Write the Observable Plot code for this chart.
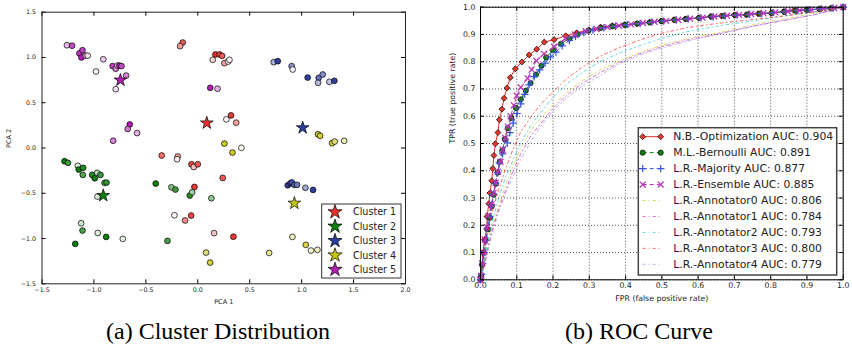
<!DOCTYPE html>
<html><head><meta charset="utf-8">
<script src="https://cdn.jsdelivr.net/npm/d3@7"></script>
<script src="https://cdn.jsdelivr.net/npm/@observablehq/plot@0.6"></script>
<style>
body{margin:0;background:#fff}
#wrap{position:relative;width:852px;height:352px;overflow:hidden;background:#fff}
.panel{position:absolute;top:0}
.cap{position:absolute;top:318px;font-family:"Liberation Serif","DejaVu Serif",serif;font-size:24px;color:#000;white-space:nowrap;transform:translateX(-50%)}
#overlay{position:absolute;left:0;top:0;pointer-events:none}
</style></head><body><div id="wrap"></div>
<script>
// ---------------- DATA ----------------
const clusterNames = ["Cluster 1","Cluster 2","Cluster 3","Cluster 4","Cluster 5"];
const clusterColors = ["#e8302a","#0c7f0c","#2f3f9f","#c5c510","#b31fb3"];
// [pca1, pca2, membership shade]
const cluster1Points = [[-0.145,1.165,0.8],[-0.17,1.125,0.45],[0.17,1.033,1.0],[0.21,1.033,0.9],[0.234,1.018,0.8],[0.144,0.974,0.2],[0.256,0.937,0.45],[0.292,0.955,0.05],[0.305,0.974,0.05],[0.32,0.36,0.95],[0.275,0.316,0.05],[0.37,0.28,0.45],[-0.347,-0.083,0.7],[-0.193,-0.094,0.45],[-0.199,-0.124,0.1],[-0.061,-0.18,0.9],[-0.039,-0.21,0.3],[0.0,-0.18,0.8],[0.24,-0.33,0.8],[-0.032,-0.43,0.95],[-0.225,-0.743,0.05],[-0.122,-0.80,0.55],[-0.064,-0.746,0.9],[0.157,-0.94,0.3],[0.343,-0.98,0.95]];
const cluster2Points = [[-1.283,-0.146,1.0],[-1.25,-0.164,0.8],[-1.155,-0.197,0.15],[-1.146,-0.238,1.0],[-1.104,-0.219,0.9],[-1.107,-0.297,0.7],[-1.017,-0.297,0.9],[-0.992,-0.334,1.0],[-0.969,-0.275,0.3],[-0.937,-0.297,0.8],[-0.898,-0.385,0.7],[-0.879,-0.382,0.85],[-0.966,-0.536,0.15],[-0.405,-0.393,1.0],[-0.254,-0.434,0.5],[-0.215,-0.459,0.8],[-0.077,-0.525,0.9],[-0.054,-0.489,0.4],[0.131,-0.555,0.45],[-1.123,-0.831,0.2],[-1.110,-0.912,0.75],[-1.18,-1.059,1.0],[-0.963,-0.938,0.15],[-0.882,-0.982,1.0],[-0.722,-1.004,0.1],[-0.292,-1.026,0.75]];
const cluster3Points = [[0.731,0.948,0.4],[0.77,0.959,1.0],[0.904,0.904,0.55],[0.914,0.867,0.05],[1.058,0.778,1.0],[1.164,0.775,0.75],[1.203,0.812,0.6],[1.158,0.72,0.35],[1.267,0.731,0.3],[1.315,0.742,1.0],[0.866,-0.412,1.0],[0.892,-0.39,1.0],[0.905,-0.38,0.9],[0.93,-0.407,0.8],[0.956,-0.407,0.7],[1.036,-0.44,0.45],[1.11,-0.463,1.0]];
const cluster4Points = [[0.256,0.049,0.9],[0.334,-0.05,0.9],[0.42,0.002,0.05],[1.158,0.152,0.9],[1.178,0.134,0.8],[1.293,0.053,0.8],[1.318,0.071,0.6],[1.409,0.079,0.3],[0.911,-0.982,0.25],[1.04,-1.07,0.75],[1.09,-1.133,0.2],[1.152,-1.125,0.25],[0.687,-1.159,0.45],[0.08,-1.155,0.6],[0.119,-1.266,0.8]];
const cluster5Points = [[-1.26,1.135,0.3],[-1.21,1.13,0.8],[-1.14,1.045,0.9],[-1.11,1.08,0.85],[-1.12,1.0,1.0],[-1.08,1.02,0.4],[-1.06,1.02,0.15],[-0.91,0.98,0.25],[-0.98,0.845,0.08],[-0.82,0.905,0.85],[-0.79,0.875,0.6],[-0.772,0.911,0.1],[-0.755,0.91,1.0],[-0.735,0.905,0.8],[-0.69,0.80,0.55],[-0.79,0.65,0.15],[0.12,0.665,1.0],[0.19,0.655,0.35],[-0.655,0.26,1.0],[-0.675,0.21,0.6],[-0.585,0.165,0.35],[-0.815,0.08,0.55]];
const clusterCentroids = [[0.087,0.276],[-0.91,-0.525],[1.01,0.223],[0.93,-0.61],[-0.745,0.75]];
const pcaXTicks = [-1.5,-1.0,-0.5,0.0,0.5,1.0,1.5,2.0];
const pcaYTicks = [-1.5,-1.0,-0.5,0.0,0.5,1.0,1.5];

const rateTicks = [0,0.1,0.2,0.3,0.4,0.5,0.6,0.7,0.8,0.9,1.0];
const rocLabels = ["N.B.-Optimization AUC: 0.904","M.L.-Bernoulli AUC: 0.891","L.R.-Majority AUC: 0.877","L.R.-Ensemble AUC: 0.885","L.R.-Annotator0 AUC: 0.806","L.R.-Annotator1 AUC: 0.784","L.R.-Annotator2 AUC: 0.793","L.R.-Annotator3 AUC: 0.800","L.R.-Annotator4 AUC: 0.779"];
// [fpr, tpr]
const nbOptimization = [[0,0],[0.0,0.01],[0.004,0.054],[0.007,0.099],[0.011,0.147],[0.017,0.186],[0.018,0.232],[0.023,0.279],[0.026,0.318],[0.031,0.363],[0.034,0.408],[0.037,0.456],[0.041,0.499],[0.048,0.540],[0.052,0.587],[0.059,0.626],[0.065,0.666],[0.073,0.704],[0.082,0.742],[0.096,0.774],[0.114,0.799],[0.134,0.825],[0.155,0.846],[0.176,0.872],[0.203,0.881],[0.235,0.895],[0.265,0.906],[0.299,0.917],[0.331,0.927],[0.363,0.932],[0.397,0.935],[0.431,0.939],[0.466,0.945],[0.497,0.949],[0.533,0.954],[0.564,0.957],[0.601,0.961],[0.634,0.966],[0.664,0.968],[0.699,0.971],[0.732,0.972],[0.765,0.976],[0.801,0.978],[0.835,0.984],[0.864,0.988],[0.899,0.990],[0.934,0.993],[0.965,0.996],[1.0,1.0]];
const mlBernoulli = [[0,0],[0.002,0.012],[0.005,0.055],[0.009,0.1],[0.014,0.145],[0.021,0.185],[0.026,0.228],[0.031,0.27],[0.036,0.312],[0.042,0.352],[0.047,0.393],[0.053,0.433],[0.06,0.474],[0.067,0.516],[0.075,0.556],[0.085,0.594],[0.098,0.63],[0.111,0.662],[0.125,0.694],[0.138,0.722],[0.153,0.753],[0.168,0.785],[0.181,0.816],[0.2,0.842],[0.222,0.866],[0.245,0.885],[0.268,0.9],[0.298,0.914],[0.331,0.924],[0.364,0.93],[0.398,0.935],[0.432,0.94],[0.467,0.944],[0.5,0.949],[0.535,0.953],[0.568,0.957],[0.603,0.961],[0.637,0.965],[0.67,0.968],[0.703,0.971],[0.736,0.973],[0.77,0.976],[0.803,0.979],[0.838,0.983],[0.87,0.987],[0.9,0.99],[0.935,0.993],[0.968,0.996],[1,1]];
const lrMajority = [[0,0],[0.003,0.02],[0.006,0.06],[0.01,0.1],[0.015,0.145],[0.02,0.19],[0.026,0.232],[0.031,0.275],[0.036,0.315],[0.042,0.355],[0.047,0.393],[0.052,0.428],[0.061,0.462],[0.074,0.502],[0.081,0.54],[0.09,0.575],[0.101,0.61],[0.111,0.645],[0.122,0.68],[0.134,0.715],[0.148,0.745],[0.163,0.77],[0.178,0.795],[0.193,0.818],[0.208,0.835],[0.225,0.858],[0.245,0.878],[0.262,0.892],[0.285,0.906],[0.31,0.916],[0.34,0.924],[0.372,0.93],[0.405,0.936],[0.44,0.94],[0.472,0.945],[0.505,0.949],[0.54,0.953],[0.573,0.957],[0.608,0.961],[0.642,0.965],[0.675,0.968],[0.708,0.971],[0.742,0.974],[0.775,0.977],[0.808,0.98],[0.842,0.984],[0.875,0.988],[0.908,0.991],[0.94,0.994],[0.972,0.997],[1,1]];
const lrEnsemble = [[0,0],[0.002,0.015],[0.004,0.06],[0.008,0.1],[0.012,0.148],[0.018,0.193],[0.022,0.235],[0.03,0.276],[0.036,0.318],[0.042,0.356],[0.048,0.396],[0.055,0.433],[0.061,0.477],[0.068,0.52],[0.075,0.562],[0.083,0.6],[0.092,0.64],[0.1,0.675],[0.111,0.706],[0.13,0.739],[0.141,0.771],[0.154,0.804],[0.175,0.829],[0.203,0.855],[0.234,0.885],[0.26,0.9],[0.29,0.912],[0.32,0.92],[0.35,0.927],[0.382,0.932],[0.415,0.937],[0.448,0.942],[0.48,0.946],[0.512,0.95],[0.545,0.954],[0.578,0.958],[0.612,0.962],[0.645,0.966],[0.68,0.969],[0.713,0.972],[0.746,0.975],[0.78,0.978],[0.813,0.981],[0.847,0.985],[0.88,0.988],[0.912,0.991],[0.945,0.994],[0.975,0.997],[1,1]];
const annotator0 = [[0,0],[0.01,0.06],[0.02,0.12],[0.03,0.18],[0.05,0.27],[0.07,0.35],[0.09,0.42],[0.11,0.48],[0.14,0.55],[0.17,0.6],[0.2,0.64],[0.24,0.69],[0.28,0.73],[0.33,0.77],[0.38,0.8],[0.44,0.835],[0.5,0.86],[0.57,0.885],[0.65,0.905],[0.75,0.935],[0.85,0.96],[0.93,0.98],[1,1]];
const annotator1 = [[0,0],[0.01,0.05],[0.02,0.11],[0.03,0.17],[0.05,0.26],[0.07,0.33],[0.09,0.4],[0.11,0.46],[0.14,0.53],[0.17,0.58],[0.2,0.63],[0.24,0.68],[0.28,0.72],[0.33,0.76],[0.38,0.795],[0.44,0.83],[0.5,0.855],[0.57,0.88],[0.65,0.9],[0.75,0.93],[0.85,0.955],[0.93,0.975],[1,1]];
const annotator2 = [[0,0],[0.01,0.07],[0.02,0.14],[0.03,0.2],[0.05,0.3],[0.07,0.38],[0.09,0.44],[0.11,0.5],[0.14,0.57],[0.17,0.62],[0.2,0.67],[0.24,0.72],[0.28,0.76],[0.33,0.8],[0.38,0.83],[0.44,0.86],[0.5,0.885],[0.57,0.91],[0.65,0.93],[0.75,0.95],[0.85,0.97],[0.93,0.985],[1,1]];
const annotator3 = [[0,0],[0.01,0.09],[0.02,0.17],[0.03,0.24],[0.05,0.33],[0.07,0.41],[0.09,0.48],[0.11,0.54],[0.14,0.6],[0.17,0.65],[0.2,0.69],[0.24,0.74],[0.28,0.78],[0.33,0.82],[0.38,0.85],[0.44,0.88],[0.5,0.905],[0.57,0.925],[0.65,0.94],[0.75,0.955],[0.85,0.97],[0.93,0.985],[1,1]];
const annotator4 = [[0,0],[0.01,0.05],[0.02,0.1],[0.03,0.16],[0.05,0.25],[0.07,0.32],[0.09,0.38],[0.11,0.44],[0.14,0.51],[0.17,0.57],[0.2,0.62],[0.24,0.67],[0.28,0.71],[0.33,0.75],[0.38,0.79],[0.44,0.825],[0.5,0.85],[0.57,0.875],[0.65,0.9],[0.75,0.93],[0.85,0.955],[0.93,0.975],[1,1]];
const annotatorColors = ["#bfbf00","#bf00bf","#00bfbf","#ff0000","#8f7fe8"];

// ---------------- LAYOUT ----------------
const wrap = document.getElementById("wrap");
const FONT = "DejaVu Sans";

// Left panel
const L = {w:420, h:310, ml:41.5, mr:15, mt:11.7, mb:26.7};
const LiH = L.h - L.mt - L.mb, LiW = L.w - L.ml - L.mr;
const clusterPoints = [cluster1Points,cluster2Points,cluster3Points,cluster4Points,cluster5Points];
const scatter = [];
clusterPoints.forEach((arr,i)=>arr.forEach(([x,y,s])=>scatter.push({x,y,s,c:i})));
const fmt1 = d3.format(".1f");
const left = Plot.plot({
  width:L.w, height:L.h, marginLeft:L.ml, marginRight:L.mr, marginTop:L.mt, marginBottom:L.mb,
  style:{fontFamily:FONT, background:"transparent", overflow:"visible", maxWidth:"none"},
  x:{domain:[-1.5,2.0]}, y:{domain:[-1.5,1.5]}, color:{type:"identity"},
  marks:[
    Plot.dot(scatter,{x:"x",y:"y",r:2.9,fill:d=>d3.interpolateRgb("#ffffff",clusterColors[d.c])(d.s),stroke:"#000",strokeWidth:0.7}),
    Plot.dot(clusterCentroids,{x:d=>d[0],y:d=>d[1],symbol:"star",r:4,fill:(d,i)=>clusterColors[i],stroke:"#000",strokeWidth:0.7}),
    Plot.ruleX(pcaXTicks,{insetBottom:LiH-4,stroke:"#000"}),
    Plot.ruleX(pcaXTicks,{insetTop:LiH-4,stroke:"#000"}),
    Plot.ruleY(pcaYTicks,{insetRight:LiW-4,stroke:"#000"}),
    Plot.ruleY(pcaYTicks,{insetLeft:LiW-4,stroke:"#000"}),
    Plot.frame({stroke:"#222"}),
    Plot.axisX(pcaXTicks,{tickSize:0,tickPadding:4,tickFormat:fmt1,fontSize:6.3,label:null,fill:"#222"}),
    Plot.axisY(pcaYTicks,{tickSize:0,tickPadding:6,tickFormat:fmt1,fontSize:6.3,label:null,fill:"#222"}),
    Plot.text(["PCA 1"],{text:d=>d,frameAnchor:"bottom",dy:19.7,fontSize:6.5,fill:"#222"}),
    Plot.text(["PCA 2"],{text:d=>d,frameAnchor:"left",dx:-33.5,rotate:-90,fontSize:6.5,fill:"#222"})
  ]
});
const lp = document.createElement("div"); lp.className="panel"; lp.style.left="0px"; lp.appendChild(left); wrap.appendChild(lp);

// Right panel
const R = {w:432, h:310, ml:60, mr:9.3, mt:6.7, mb:30.7};
const RiH = R.h - R.mt - R.mb, RiW = R.w - R.ml - R.mr;
const annotators = [annotator0,annotator1,annotator2,annotator3,annotator4];
const XY = {x:d=>d[0], y:d=>d[1]};
const mainStyles = [
  {data:nbOptimization, stroke:"#e0302a", dash:null, symbol:"diamond2", r:2.7, fill:"#e53a2c", mstroke:"#000", msw:0.7},
  {data:mlBernoulli, stroke:"#0f800f", dash:"4,3", symbol:"circle", r:2.6, fill:"#138013", mstroke:"#000", msw:0.7},
  {data:lrMajority, stroke:"#3355dd", dash:"4,3", symbol:"plus", r:2.5, fill:"none", mstroke:"#3355dd", msw:1.2},
  {data:lrEnsemble, stroke:"#b833b8", dash:"4,3", symbol:"times", r:2.8, fill:"none", mstroke:"#b833b8", msw:1.3}
];
const rocMarks = [
  Plot.gridX(rateTicks,{stroke:"#000",strokeOpacity:0.85,strokeDasharray:"1,2",strokeWidth:0.8}),
  Plot.gridY(rateTicks,{stroke:"#000",strokeOpacity:0.85,strokeDasharray:"1,2",strokeWidth:0.8})
];
mainStyles.forEach(s=>{
  rocMarks.push(Plot.line(s.data,{...XY,stroke:s.stroke,strokeWidth:1,strokeDasharray:s.dash}));
  rocMarks.push(Plot.dot(s.data,{...XY,symbol:s.symbol,r:s.r,fill:s.fill,stroke:s.mstroke,strokeWidth:s.msw}));
});
annotators.forEach((a,i)=>rocMarks.push(Plot.line(a,{...XY,stroke:annotatorColors[i],strokeOpacity:0.6,strokeWidth:1,strokeDasharray:"3,3,1,3"})));
rocMarks.push(
  Plot.ruleX(rateTicks,{insetBottom:RiH-4,stroke:"#000"}),
  Plot.ruleX(rateTicks,{insetTop:RiH-4,stroke:"#000"}),
  Plot.ruleY(rateTicks,{insetRight:RiW-4,stroke:"#000"}),
  Plot.ruleY(rateTicks,{insetLeft:RiW-4,stroke:"#000"}),
  Plot.frame({stroke:"#000"}),
  Plot.axisX(rateTicks,{tickSize:0,tickPadding:3,tickFormat:fmt1,fontSize:7.8,label:null,fill:"#222"}),
  Plot.axisY(rateTicks,{tickSize:0,tickPadding:5,tickFormat:fmt1,fontSize:7.8,label:null,fill:"#222"}),
  Plot.text(["FPR (false positive rate)"],{text:d=>d,frameAnchor:"bottom",dy:20.7,fontSize:7.8,fill:"#222"}),
  Plot.text(["TPR (true positive rate)"],{text:d=>d,frameAnchor:"left",dx:-28,rotate:-90,fontSize:7.8,fill:"#222"})
);
const right = Plot.plot({
  width:R.w, height:R.h, marginLeft:R.ml, marginRight:R.mr, marginTop:R.mt, marginBottom:R.mb,
  style:{fontFamily:FONT, background:"transparent", overflow:"visible", maxWidth:"none"},
  x:{domain:[0,1]}, y:{domain:[0,1]},
  marks:rocMarks
});
const rp = document.createElement("div"); rp.className="panel"; rp.style.left="420px"; rp.appendChild(right); wrap.appendChild(rp);

// ---------------- LEGENDS (overlay) ----------------
const ov = d3.select(wrap).append("svg").attr("id","overlay").attr("width",852).attr("height",352)
  .style("font-family",FONT);
// left legend
ov.append("rect").attr("x",321.7).attr("y",204).attr("width",79.3).attr("height",74)
  .attr("fill","#fff").attr("stroke","#333").attr("stroke-width",1);
clusterNames.forEach((n,i)=>{
  const y = 212 + i*14.4;
  ov.append("path").attr("d",d3.symbol(d3.symbolStar,62)()).attr("transform",`translate(335,${y})`)
    .attr("fill",clusterColors[i]).attr("stroke","#000").attr("stroke-width",0.7);
  ov.append("text").attr("x",353).attr("y",y).attr("dy","0.35em").attr("font-size",9.6).attr("fill","#222").text(n);
});
// right legend
ov.append("rect").attr("x",638.3).attr("y",127.7).attr("width",198.4).attr("height",147.3)
  .attr("fill","#fff").attr("stroke","#444").attr("stroke-width",1.5);
const symMap = {diamond2:d3.symbolDiamond2,circle:d3.symbolCircle,plus:d3.symbolPlus,times:d3.symbolTimes};
rocLabels.forEach((lab,i)=>{
  const y = 136.7 + i*15.95;
  if (i<4) {
    const s = mainStyles[i];
    ov.append("line").attr("x1",642.7).attr("x2",660.7).attr("y1",y).attr("y2",y)
      .attr("stroke",s.stroke).attr("stroke-width",1).attr("stroke-dasharray",s.dash);
    [642.7,660.7].forEach(x=>{
      ov.append("path").attr("d",d3.symbol(symMap[s.symbol],Math.PI*s.r*s.r)()).attr("transform",`translate(${x},${y})`)
        .attr("fill",s.fill).attr("stroke",s.mstroke).attr("stroke-width",s.msw);
    });
  } else {
    ov.append("line").attr("x1",642.7).attr("x2",660.7).attr("y1",y).attr("y2",y)
      .attr("stroke",annotatorColors[i-4]).attr("stroke-opacity",0.6).attr("stroke-width",1).attr("stroke-dasharray","3,3,1,3");
  }
  ov.append("text").attr("x",673.3).attr("y",y).attr("dy","0.35em").attr("font-size",10.8).attr("fill","#222").text(lab);
});

// ---------------- CAPTIONS ----------------
[["(a) Cluster Distribution",218],["(b) ROC Curve",639]].forEach(([t,cx])=>{
  const d = document.createElement("div"); d.className="cap"; d.style.left=cx+"px"; d.textContent=t; wrap.appendChild(d);
});
</script></body></html>
